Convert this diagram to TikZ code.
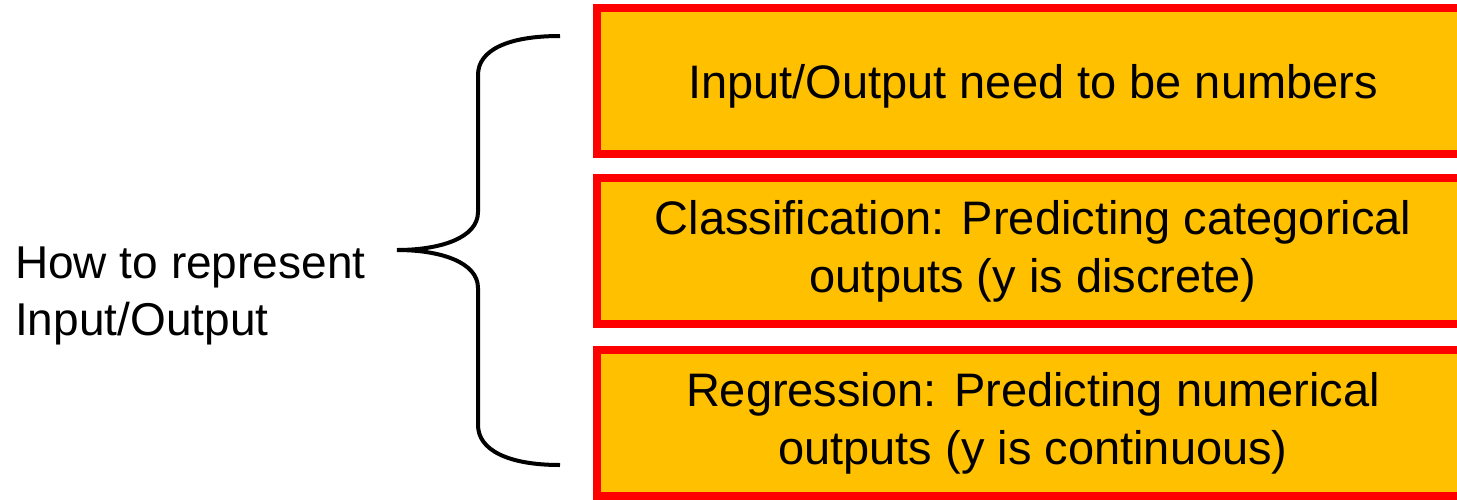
\documentclass[tikz,border=0pt]{standalone}
\usepackage{fontspec}
\setmainfont{Liberation Sans}
\definecolor{boxfill}{HTML}{FFC000}
\definecolor{boxline}{HTML}{FF0000}
\begin{document}
\begin{tikzpicture}[x=1pt,y=-1pt,
  every node/.style={font=\fontsize{46}{57}\selectfont},
  itembox/.style={draw=boxline, line width=8pt, fill=boxfill,
    minimum width=872pt, minimum height=146pt, inner sep=0pt,
    align=center, font=\fontsize{47}{58}\selectfont,
    % a taller first line nudges the text block down a little
    execute at begin node={\rule{0pt}{44pt}}},
  topic/.style={inner sep=0pt, align=left, anchor=west},
  bracestroke/.style={draw=black, line width=4pt}
]
\clip (0,0) rectangle (1457,499);

% the three item boxes (their right edges run past the page)
\node[itembox] (numbers) at (1033,81) {Input/Output need to be numbers};
\node[itembox] (classif) at (1033,251) {Classification: Predicting categorical\\outputs (y is discrete)};
\node[itembox] (regress) at (1033,423) {Regression: Predicting numerical\\outputs (y is continuous)};

% topic on the left
\node[topic] (topic) at (15,296) {How to represent\\Input/Output};

% curly brace grouping the boxes
\coordinate (btop) at (560,36);
\coordinate (bbot) at (560,465);
\coordinate (btip) at (397,250);
\draw[bracestroke] (btop) .. controls (508,36) and (478,50) .. (478,75)
  -- (478,212) .. controls (478,238) and (440,250) .. (btip)
  .. controls (440,250) and (478,262) .. (478,288)
  -- (478,425) .. controls (478,450) and (508,465) .. (bbot);
\end{tikzpicture}
\end{document}
